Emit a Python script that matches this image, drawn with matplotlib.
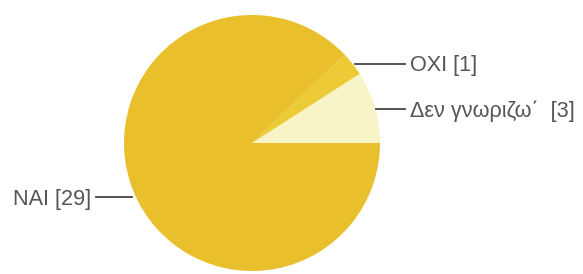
import matplotlib
matplotlib.use('Agg')
import matplotlib.pyplot as plt

# Δεδομένα
categories = ['Δεν γνωριζω΄', 'ΟΧΙ', 'ΝΑΙ']
values = [3, 1, 29]
colors = ['#f8f4c8', '#eccb36', '#e9bf2b']

W, H = 583, 274
fig = plt.figure(figsize=(W / 100, H / 100), dpi=100, facecolor='white')
ax = fig.add_axes([0, 0, 1, 1])

# pie desenhado num eixo com y invertido -> counterclock=False mantém o sentido visual
ax.pie(values, colors=colors, startangle=0, counterclock=False,
       center=(252, 143), radius=128, frame=True,
       wedgeprops=dict(linewidth=0, antialiased=True))
ax.set_xlim(0, W)
ax.set_ylim(H, 0)
ax.axis('off')

txt = dict(fontsize=15.6, color='#555555', family='Liberation Sans', va='center')
line = dict(color='#444444', linewidth=1.3)

# rótulos
ax.plot([355, 405], [64, 64], **line)
ax.text(410, 66, f'{categories[1]} [{values[1]}]', ha='left', **txt)

ax.plot([376, 405], [109, 109], **line)
ax.text(410, 111, f'{categories[0]}  [{values[0]}]', ha='left', **txt)

ax.plot([96, 132], [197, 197], **line)
ax.text(91, 199, f'{categories[2]} [{values[2]}]', ha='right', **txt)

fig.savefig('out.png', dpi=100, facecolor='white')
